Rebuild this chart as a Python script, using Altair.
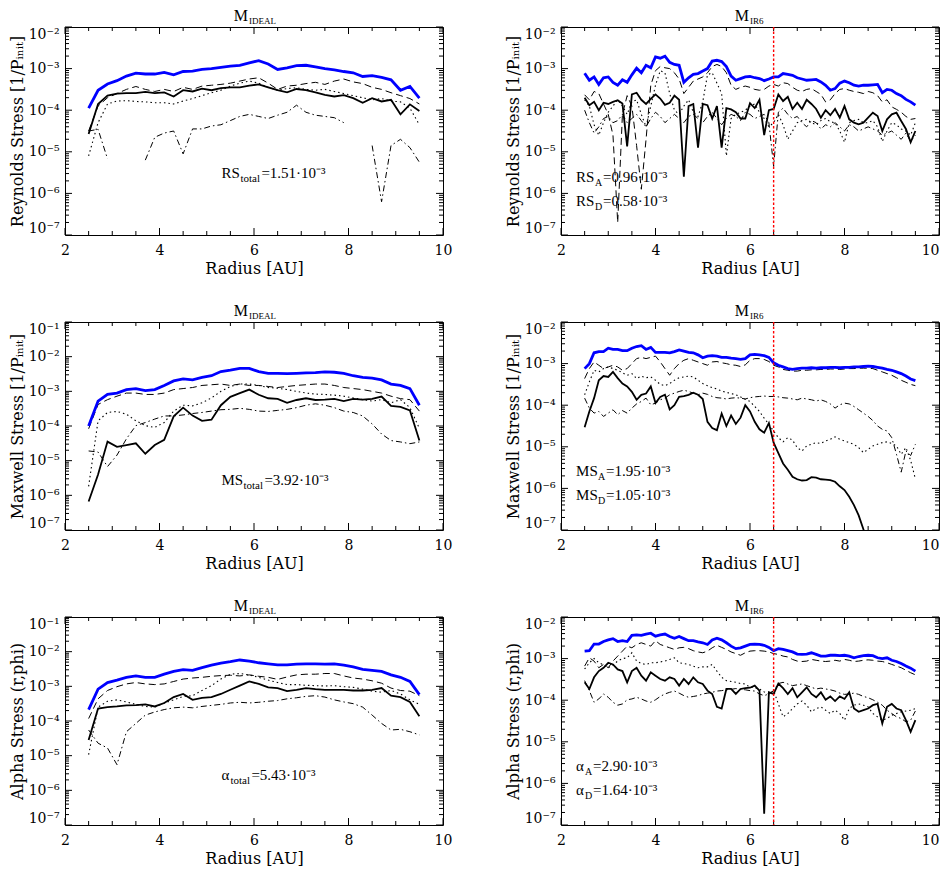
import pandas as pd
import altair as alt

# radius grids [AU]
R_IDEAL = [2.5, 2.7, 2.9, 3.1, 3.3, 3.5, 3.7, 3.9, 4.1, 4.3, 4.5, 4.7, 4.9, 5.1, 5.3, 5.5, 5.7, 5.9,
           6.1, 6.3, 6.5, 6.7, 6.9, 7.1, 7.3, 7.5, 7.7, 7.9, 8.1, 8.3, 8.5, 8.7, 8.9, 9.1, 9.3, 9.5]
R_IR6 = [round(2.5 + 0.1 * i, 1) for i in range(71)]

# all stresses below are log10 values (None = gap in the curve)
rs_ideal_total = [-3.95, -3.52, -3.37, -3.29, -3.18, -3.11, -3.13, -3.13, -3.09, -3.15, -3.07, -3.06, -3.02, -3.00, -2.97, -2.94, -2.92, -2.86,
                  -2.81, -2.89, -3.02, -2.98, -2.93, -2.92, -2.96, -3.00, -3.03, -3.07, -3.10, -3.19, -3.17, -3.21, -3.27, -3.52, -3.43, -3.71]
rs_ideal_solid = [-4.57, -3.85, -3.65, -3.60, -3.59, -3.59, -3.56, -3.59, -3.57, -3.67, -3.52, -3.55, -3.48, -3.52, -3.47, -3.45, -3.45, -3.41,
                  -3.38, -3.45, -3.52, -3.57, -3.49, -3.52, -3.57, -3.63, -3.67, -3.64, -3.71, -3.82, -3.71, -3.79, -3.75, -4.10, -3.86, -4.02]
rs_ideal_dash = [-4.50, -3.90, -3.70, -3.60, -3.50, -3.43, -3.50, -3.55, -3.50, -3.55, -3.45, -3.50, -3.42, -3.40, -3.38, -3.35, -3.30, -3.25,
                 -3.22, -3.35, -3.50, -3.42, -3.40, -3.36, -3.33, -3.38, -3.30, -3.25, -3.32, -3.36, -3.45, -3.50, -3.58, -3.65, -3.72, -3.85]
rs_ideal_dot = [-5.10, -4.30, -3.85, -3.78, -3.77, -3.79, -3.80, -3.82, -3.82, -3.85, -3.78, -3.72, -3.65, -3.58, -3.52, -3.42, -3.35, -3.30,
                -3.35, -3.45, -3.52, -3.48, -3.46, -3.50, -3.52, -3.50, -3.55, -3.60, -3.65, -3.70, -3.75, -3.72, -3.78, -3.80, -3.95, -4.35]
rs_ideal_dashdot = [-4.50, -4.46, -5.17, None, None, None, -5.20, -4.65, -4.55, -4.50, -5.05, -4.45, -4.45, -4.38, -4.35, -4.25, -4.15, -4.10,
                    -4.15, -4.20, -4.12, -4.05, -3.88, -4.05, -4.12, -4.15, -4.18, -4.30, None, None, -4.85, -6.20, -4.85, -4.70, -4.90, -5.25]

ms_ideal_total = [-4.00, -3.28, -3.09, -3.05, -2.95, -2.92, -2.98, -2.95, -2.83, -2.70, -2.64, -2.67, -2.60, -2.55, -2.43, -2.39, -2.34, -2.34,
                  -2.43, -2.48, -2.48, -2.49, -2.48, -2.47, -2.46, -2.44, -2.45, -2.48, -2.55, -2.60, -2.62, -2.67, -2.79, -2.83, -2.92, -3.40]
ms_ideal_solid = [-6.18, -5.40, -4.45, -4.60, -4.55, -4.50, -4.80, -4.55, -4.40, -3.72, -3.47, -3.70, -3.85, -3.82, -3.40, -3.16, -3.05, -2.95,
                  -3.10, -3.20, -3.22, -3.33, -3.25, -3.20, -3.25, -3.24, -3.22, -3.28, -3.22, -3.24, -3.22, -3.15, -3.42, -3.45, -3.55, -4.42]
ms_ideal_dash = [-4.08, -3.38, -3.24, -3.14, -3.05, -3.05, -3.09, -3.09, -3.05, -2.95, -2.92, -2.89, -2.83, -2.81, -2.79, -2.83, -2.79, -2.83,
                 -2.83, -2.86, -2.89, -2.86, -2.83, -2.81, -2.79, -2.79, -2.83, -2.89, -2.92, -2.95, -3.00, -3.05, -3.14, -3.21, -3.24, -3.57]
ms_ideal_dot = [-5.74, -3.85, -3.61, -3.58, -3.66, -3.85, -3.99, -4.04, -3.90, -3.57, -3.40, -3.42, -3.33, -3.19, -3.00, -2.86, -2.79, -2.79,
                -2.83, -2.89, -2.91, -2.95, -3.00, -3.05, -3.08, -3.09, -3.11, -3.14, -3.19, -3.24, -3.28, -3.24, -3.33, -3.24, -3.47, -4.07]
ms_ideal_dashdot = [-4.72, -4.75, -5.17, -4.84, -4.37, -3.99, -3.90, -3.80, -3.71, -3.71, -3.68, -3.64, -3.61, -3.57, -3.53, -3.52, -3.49, -3.52,
                    -3.57, -3.58, -3.55, -3.52, -3.47, -3.40, -3.36, -3.40, -3.47, -3.57, -3.61, -3.71, -3.94, -4.23, -4.42, -4.46, -4.51, -4.46]

as_ideal_total = [-3.67, -3.08, -2.89, -2.82, -2.74, -2.70, -2.74, -2.74, -2.65, -2.57, -2.52, -2.54, -2.46, -2.39, -2.33, -2.29, -2.24, -2.27,
                  -2.32, -2.35, -2.38, -2.38, -2.36, -2.35, -2.35, -2.36, -2.35, -2.39, -2.44, -2.51, -2.54, -2.57, -2.67, -2.74, -2.86, -3.24]
as_ideal_solid = [-4.55, -3.64, -3.60, -3.58, -3.55, -3.54, -3.52, -3.58, -3.48, -3.31, -3.22, -3.39, -3.33, -3.31, -3.22, -3.10, -2.98, -2.86,
                  -2.93, -3.03, -3.05, -3.14, -3.10, -3.05, -3.08, -3.10, -3.10, -3.10, -3.12, -3.12, -3.10, -3.05, -3.27, -3.31, -3.45, -3.86]
as_ideal_dash = [-3.93, -3.36, -3.12, -3.01, -2.93, -2.89, -2.93, -2.95, -2.93, -2.86, -2.79, -2.76, -2.74, -2.71, -2.69, -2.68, -2.70, -2.67,
                 -2.71, -2.74, -2.80, -2.73, -2.67, -2.65, -2.65, -2.63, -2.63, -2.70, -2.76, -2.79, -2.84, -2.91, -3.05, -3.12, -3.14, -3.27]
as_ideal_dot = [-4.97, -3.60, -3.43, -3.39, -3.45, -3.52, -3.58, -3.60, -3.48, -3.39, -3.29, -3.27, -3.12, -2.98, -2.79, -2.65, -2.63, -2.67,
                -2.74, -2.82, -2.89, -2.95, -2.95, -2.97, -2.98, -2.99, -2.98, -3.01, -3.03, -3.08, -3.14, -3.17, -3.12, -3.22, -3.39, -3.52]
as_ideal_dashdot = [-4.26, -4.64, -4.78, -5.26, -4.31, -4.07, -3.83, -3.74, -3.67, -3.62, -3.60, -3.62, -3.58, -3.55, -3.52, -3.48, -3.46, -3.48,
                    -3.46, -3.43, -3.41, -3.36, -3.33, -3.29, -3.27, -3.31, -3.39, -3.45, -3.50, -3.60, -3.83, -4.07, -4.26, -4.24, -4.31, -4.40]

rs_ir6_total = [-3.11, -3.28, -3.20, -3.38, -3.22, -3.20, -3.33, -3.40, -3.27, -3.33,
                -3.15, -2.99, -3.10, -2.92, -2.98, -2.72, -2.75, -2.70, -2.85, -2.90,
                -2.92, -3.33, -3.22, -3.14, -3.12, -3.06, -3.00, -2.82, -2.80, -2.83,
                -2.95, -3.18, -3.28, -3.24, -3.20, -3.19, -3.22, -3.24, -3.29, -3.25,
                -3.20, -3.20, -3.12, -3.14, -3.16, -3.22, -3.25, -3.28, -3.27, -3.26,
                -3.32, -3.40, -3.52, -3.48, -3.35, -3.30, -3.34, -3.40, -3.42, -3.40,
                -3.40, -3.39, -3.38, -3.58, -3.50, -3.52, -3.60, -3.65, -3.74, -3.80, -3.88]
rs_ir6_solid = [-3.70, -3.88, -3.80, -4.00, -3.82, -3.85, -3.80, -3.76, -3.84, -4.87,
                -3.62, -3.58, -3.75, -3.85, -3.73, -3.62, -3.72, -3.87, -3.82, -3.65,
                -3.75, -5.60, -3.90, -3.85, -4.90, -3.85, -3.88, -4.20, -3.90, -4.90,
                -3.95, -3.98, -4.05, -4.20, -4.20, -3.83, -3.95, -3.75, -4.60, -4.00,
                -3.97, -3.62, -3.78, -3.68, -3.97, -3.82, -3.97, -3.75, -3.85, -3.97,
                -4.18, -4.00, -4.12, -3.97, -4.18, -3.90, -4.22, -4.30, -4.34, -4.30,
                -4.18, -4.06, -4.14, -4.50, -4.22, -4.10, -4.06, -4.26, -4.45, -4.77, -4.50]
rs_ir6_dash = [-3.63, -3.75, -3.55, -3.60, -3.85, -4.10, -4.60, -6.70, -4.10, -3.65,
               -3.90, -4.85, -5.90, -4.70, -3.40, -3.05, -2.95, -2.98, -3.00, -3.10,
               -3.25, -3.60, -3.45, -3.30, -3.25, -3.20, -3.10, -2.95, -2.90, -2.95,
               -3.10, -3.40, -3.50, -3.45, -3.42, -3.45, -3.50, -3.52, -3.50, -3.42,
               -3.38, -3.42, -3.34, -3.36, -3.45, -3.52, -3.55, -3.50, -3.48, -3.55,
               -3.62, -3.80, -3.75, -3.60, -3.50, -3.48, -3.52, -3.55, -3.57, -3.60,
               -3.55, -3.58, -3.65, -3.80, -3.75, -3.92, -3.98, -4.05, -4.15, -4.22, -4.20]
rs_ir6_dot = [-3.75, -3.90, -4.35, -4.60, -4.30, -4.05, -3.90, -3.75, -3.90, -4.10,
              -3.80, -3.75, -4.10, -4.40, -3.90, -3.40, -3.05, -3.10, -3.60, -4.00,
              -4.10, -3.90, -3.75, -4.05, -4.15, -3.80, -3.15, -3.10, -3.35, -3.60,
              -5.10, -4.20, -4.10, -4.05, -4.00, -3.90, -3.85, -4.05, -4.20, -4.40,
              -4.30, -4.10, -4.35, -4.70, -4.50, -4.30, -4.25, -4.22, -4.30, -4.35,
              -4.25, -4.20, -4.28, -4.30, -4.50, -4.77, -4.30, -4.25, -4.22, -4.30,
              -4.30, -4.25, -4.40, -4.75, -4.50, -4.30, -4.35, -4.45, -4.50, -4.60, -4.30]
rs_ir6_dashdot = [-4.00, -4.30, -4.55, -4.40, -4.20, -4.15, -4.30, -4.25, -4.10, -4.30,
                  -4.20, -4.10, -4.25, -4.40, -4.20, -4.05, -4.15, -4.30, -4.20, -4.10,
                  -4.20, -4.30, -4.15, -4.10, -4.20, -4.30, -4.15, -4.05, -4.20, -4.35,
                  -4.20, -4.10, -4.15, -4.25, -4.05, -4.10, -4.20, -4.15, -4.10, -4.30,
                  -5.35, -4.05, -3.95, -4.10, -4.20, -4.15, -4.30, -4.40, -4.25, -4.30,
                  -4.45, -4.35, -4.40, -4.30, -4.40, -4.50, -4.35, -4.40, -4.50, -4.45,
                  -4.40, -4.45, -4.50, -4.60, -4.55, -4.50, -4.60, -4.70, -4.55, -4.75, -4.60]

ms_ir6_total = [-3.12, -3.00, -2.74, -2.71, -2.71, -2.63, -2.66, -2.66, -2.69, -2.69,
                -2.63, -2.59, -2.57, -2.66, -2.61, -2.73, -2.73, -2.73, -2.74, -2.71,
                -2.67, -2.70, -2.73, -2.74, -2.79, -2.86, -2.82, -2.81, -2.82, -2.85,
                -2.85, -2.87, -2.88, -2.90, -2.88, -2.79, -2.78, -2.79, -2.81, -2.85,
                -2.98, -3.04, -3.08, -3.12, -3.14, -3.12, -3.11, -3.11, -3.10, -3.11,
                -3.10, -3.10, -3.09, -3.09, -3.10, -3.09, -3.09, -3.08, -3.08, -3.07,
                -3.06, -3.07, -3.09, -3.11, -3.14, -3.16, -3.20, -3.24, -3.30, -3.37, -3.41]
ms_ir6_solid = [-4.53, -4.15, -3.83, -3.40, -3.30, -3.32, -3.20, -3.35, -3.48, -3.55,
                -3.68, -3.87, -3.75, -3.72, -3.55, -3.95, -3.80, -3.75, -4.10, -4.00,
                -3.80, -3.78, -3.75, -3.70, -3.75, -3.85, -4.40, -4.55, -4.60, -4.20,
                -4.50, -4.25, -4.45, -4.30, -4.00, -4.15, -4.40, -4.58, -4.66, -4.43,
                -4.90, -5.15, -5.40, -5.55, -5.72, -5.78, -5.81, -5.80, -5.73, -5.74,
                -5.78, -5.79, -5.80, -5.84, -5.95, -6.04, -6.20, -6.40, -6.65, -6.98,
                -7.40, None, None, None, None, None, None, None, None, None, None]
ms_ir6_dash = [-3.36, -3.12, -2.96, -3.04, -3.12, -3.08, -3.04, -3.08, -3.16, -3.12,
               -3.00, -2.88, -2.85, -2.88, -2.85, -2.82, -2.96, -3.12, -3.28, -3.12,
               -3.00, -2.92, -2.88, -2.92, -2.96, -3.00, -3.04, -2.96, -2.95, -2.98,
               -3.00, -3.03, -3.04, -3.07, -3.03, -2.92, -2.88, -2.88, -2.90, -2.95,
               -3.04, -3.08, -3.14, -3.16, -3.18, -3.18, -3.16, -3.16, -3.15, -3.15,
               -3.14, -3.14, -3.13, -3.13, -3.14, -3.13, -3.12, -3.12, -3.11, -3.11,
               -3.11, -3.12, -3.16, -3.20, -3.24, -3.28, -3.34, -3.40, -3.45, -3.50, -3.53]
ms_ir6_dot = [-3.75, -3.44, -3.16, -3.20, -3.12, -3.08, -3.12, -3.16, -3.22, -3.28,
              -3.24, -3.36, -3.30, -3.34, -3.32, -3.40, -3.50, -3.53, -3.48, -3.40,
              -3.34, -3.32, -3.30, -3.32, -3.40, -3.48, -3.53, -3.58, -3.61, -3.66,
              -3.69, -3.72, -3.75, -3.80, -3.86, -3.91, -4.03, -4.15, -4.31, -4.46,
              -4.62, -4.78, -4.88, -4.78, -4.84, -5.02, -5.10, -4.98, -4.94, -4.90,
              -4.92, -4.86, -4.82, -4.76, -4.82, -4.86, -4.90, -4.94, -5.02, -5.14,
              -5.06, -4.98, -4.94, -4.90, -4.88, -4.92, -4.98, -5.18, -5.02, -5.33, -5.77]
ms_ir6_dashdot = [-3.83, -4.07, -4.19, -4.15, -4.27, -4.19, -4.11, -4.23, -4.13, -4.19,
                  -4.07, -3.97, -3.91, -3.83, -3.99, -3.95, -3.87, -3.83, -3.75, -3.71,
                  -3.67, -3.64, -3.67, -3.71, -3.75, -3.71, -3.74, -3.79, -3.82, -3.83,
                  -3.85, -3.83, -3.82, -3.83, -3.85, -3.82, -3.80, -3.79, -3.78, -3.79,
                  -3.79, -3.80, -3.82, -3.83, -3.85, -3.87, -3.83, -3.85, -3.87, -3.90,
                  -3.87, -3.91, -3.97, -4.07, -3.99, -3.95, -3.97, -4.03, -4.11, -4.19,
                  -4.27, -4.37, -4.50, -4.58, -4.62, -4.78, -5.18, -5.61, -5.10, -5.21, -4.94]

as_ir6_total = [-2.82, -2.81, -2.65, -2.65, -2.59, -2.55, -2.52, -2.59, -2.57, -2.59,
                -2.44, -2.43, -2.44, -2.41, -2.39, -2.46, -2.43, -2.41, -2.47, -2.51,
                -2.47, -2.52, -2.57, -2.57, -2.60, -2.62, -2.66, -2.55, -2.51, -2.55,
                -2.62, -2.70, -2.76, -2.74, -2.70, -2.66, -2.65, -2.66, -2.68, -2.73,
                -2.81, -2.76, -2.78, -2.81, -2.84, -2.89, -2.90, -2.89, -2.86, -2.90,
                -2.94, -2.94, -2.92, -2.92, -2.93, -2.92, -2.94, -2.98, -2.95, -2.93,
                -2.92, -2.93, -2.98, -3.00, -2.98, -3.04, -3.07, -3.12, -3.18, -3.23, -3.30]
as_ir6_solid = [-3.57, -3.73, -3.45, -3.30, -3.22, -3.10, -3.14, -3.26, -3.30, -3.57,
                -3.30, -3.22, -3.41, -3.53, -3.33, -3.41, -3.49, -3.53, -3.45, -3.49,
                -3.65, -3.49, -3.61, -3.45, -3.57, -3.61, -3.77, -3.85, -4.16, -4.20,
                -3.73, -3.73, -3.85, -3.73, -3.71, -3.70, -3.65, -3.77, -6.73, -3.81,
                -3.85, -3.60, -3.71, -3.85, -3.71, -3.93, -3.81, -3.69, -3.85, -3.93,
                -3.81, -3.99, -3.91, -4.02, -3.91, -3.97, -3.81, -4.20, -4.28, -4.24,
                -4.20, -4.12, -4.09, -4.56, -4.16, -4.09, -4.20, -4.24, -4.48, -4.76, -4.48]
as_ir6_dash = [-3.18, -2.98, -3.06, -3.22, -3.14, -3.22, -3.06, -2.94, -2.82, -2.70,
               -2.74, -2.66, -2.62, -2.66, -2.70, -2.57, -2.66, -2.70, -2.74, -2.78,
               -2.74, -2.73, -2.76, -2.81, -2.84, -2.86, -2.82, -2.74, -2.68, -2.73,
               -2.78, -2.84, -2.88, -2.92, -2.86, -2.82, -2.81, -2.81, -2.82, -2.84,
               -2.88, -2.90, -2.94, -2.96, -3.02, -3.06, -3.07, -3.06, -3.02, -3.04,
               -3.06, -3.07, -3.06, -3.04, -3.06, -3.02, -3.04, -3.07, -3.06, -3.04,
               -3.03, -3.04, -3.06, -3.07, -3.10, -3.14, -3.18, -3.22, -3.28, -3.34, -3.39]
as_ir6_dot = [-3.25, -3.10, -3.00, -3.10, -3.15, -3.22, -3.15, -3.06, -3.00, -2.98,
              -2.86, -3.06, -3.12, -3.14, -3.10, -3.10, -3.08, -3.06, -3.02, -2.98,
              -3.10, -3.12, -3.14, -3.18, -3.22, -3.20, -3.20, -3.14, -3.30, -3.45,
              -3.53, -3.55, -3.57, -3.60, -3.61, -3.69, -3.70, -3.73, -3.80, -3.85,
              -3.77, -4.09, -4.40, -4.32, -4.20, -4.09, -4.02, -4.12, -4.28, -4.20,
              -4.16, -4.24, -4.32, -4.24, -4.32, -4.48, -4.20, -4.12, -4.09, -4.12,
              -4.16, -4.32, -4.40, -4.48, -4.44, -4.36, -4.32, -4.28, -4.26, -4.24, -4.20]
as_ir6_dashdot = [-3.53, -3.77, -4.05, -3.97, -3.85, -3.93, -4.05, -4.12, -4.09, -3.99,
                  -3.97, -3.93, -3.97, -4.02, -4.05, -3.99, -3.91, -3.85, -3.81, -3.78,
                  -3.83, -3.89, -3.93, -3.91, -3.89, -3.85, -3.83, -3.81, -3.78, -3.77,
                  -3.75, -3.74, -3.72, -3.74, -3.75, -3.77, -3.78, -3.85, -3.89, -3.85,
                  -3.77, -3.60, -3.57, -3.61, -3.65, -3.63, -3.61, -3.65, -3.69, -3.73,
                  -3.71, -3.73, -3.75, -3.78, -3.83, -3.86, -3.85, -3.83, -3.86, -3.91,
                  -3.94, -3.99, -4.05, -4.12, -4.24, -4.32, -4.40, -4.44, -4.52, -4.48, -4.26]

# axis ticks
X_LABELS = [2, 4, 6, 8, 10]
X_MINOR = [2.5, 3, 3.5, 4.5, 5, 5.5, 6.5, 7, 7.5, 8.5, 9, 9.5]
Y_MINOR_MULT = [2, 3, 4, 5, 6, 7, 8, 9]
DEAD_ZONE_EDGE = 6.5

W, H = 378, 208
SERIF = "DejaVu Serif"
TIMES = "Liberation Serif"
SUP = str.maketrans("-0123456789", "⁻⁰¹²³⁴⁵⁶⁷⁸⁹")

STYLES = {
    "dashdot": dict(color="black", strokeWidth=1, strokeDash=[6, 3, 1.5, 3]),
    "dot": dict(color="black", strokeWidth=1.1, strokeDash=[1.5, 3]),
    "dash": dict(color="black", strokeWidth=1, strokeDash=[7, 4]),
    "solid": dict(color="black", strokeWidth=1.8),
    "total": dict(color="#0000ff", strokeWidth=2.8),
}

# notes: (r, log10 value, [(text, dx, dy, size), ...])
PANELS = [
    dict(key="rs_ideal", model="IDEAL", grid=R_IDEAL, top=-2, ytitle="Reynolds Stress [1/Pᵢₙᵢₜ]",
         series=dict(dashdot=rs_ideal_dashdot, dot=rs_ideal_dot, dash=rs_ideal_dash, solid=rs_ideal_solid, total=rs_ideal_total),
         notes=[(5.31, -5.63, [("RS", 0, 0, 15), ("total", 19, 4, 11), ("=1.51·10⁻³", 40, 0, 15)])]),
    dict(key="rs_ir6", model="IR6", grid=R_IR6, top=-2, ytitle="Reynolds Stress [1/Pᵢₙᵢₜ]",
         series=dict(dashdot=rs_ir6_dashdot, dot=rs_ir6_dot, dash=rs_ir6_dash, solid=rs_ir6_solid, total=rs_ir6_total),
         notes=[(2.32, -5.72, [("RS", 0, 0, 15), ("A", 19, 4, 10), ("=0.96·10⁻³", 27, 0, 15)]),
                (2.32, -6.31, [("RS", 0, 0, 15), ("D", 19, 4, 10), ("=0.58·10⁻³", 27, 0, 15)])]),
    dict(key="ms_ideal", model="IDEAL", grid=R_IDEAL, top=-1, ytitle="Maxwell Stress [1/Pᵢₙᵢₜ]",
         series=dict(dashdot=ms_ideal_dashdot, dot=ms_ideal_dot, dash=ms_ideal_dash, solid=ms_ideal_solid, total=ms_ideal_total),
         notes=[(5.31, -5.69, [("MS", 0, 0, 15), ("total", 22, 4, 11), ("=3.92·10⁻³", 43, 0, 15)])]),
    dict(key="ms_ir6", model="IR6", grid=R_IR6, top=-2, ytitle="Maxwell Stress [1/Pᵢₙᵢₜ]",
         series=dict(dashdot=ms_ir6_dashdot, dot=ms_ir6_dot, dash=ms_ir6_dash, solid=ms_ir6_solid, total=ms_ir6_total),
         notes=[(2.32, -5.70, [("MS", 0, 0, 15), ("A", 22, 4, 10), ("=1.95·10⁻³", 30, 0, 15)]),
                (2.32, -6.27, [("MS", 0, 0, 15), ("D", 22, 4, 10), ("=1.05·10⁻³", 30, 0, 15)])]),
    dict(key="as_ideal", model="IDEAL", grid=R_IDEAL, top=-1, ytitle="Alpha Stress (r,phi)",
         series=dict(dashdot=as_ideal_dashdot, dot=as_ideal_dot, dash=as_ideal_dash, solid=as_ideal_solid, total=as_ideal_total),
         notes=[(5.31, -5.69, [("α", 0, 0, 15), ("total", 9, 4, 11), ("=5.43·10⁻³", 30, 0, 15)])]),
    dict(key="as_ir6", model="IR6", grid=R_IR6, top=-2, ytitle="Alpha Stress (r,phi)",
         series=dict(dashdot=as_ir6_dashdot, dot=as_ir6_dot, dash=as_ir6_dash, solid=as_ir6_solid, total=as_ir6_total),
         notes=[(2.32, -5.70, [("α", 0, 0, 15), ("A", 9, 4, 10), ("=2.90·10⁻³", 17, 0, 15)]),
                (2.32, -6.27, [("α", 0, 0, 15), ("D", 9, 4, 10), ("=1.64·10⁻³", 17, 0, 15)])]),
]
TITLE_SHIFT = {"IDEAL": -6, "IR6": -1}


def label_expr(exps):
    expr = "''"
    for e in reversed(exps):
        expr = f"datum.value < {10.0 ** e * 3.16:g} ? '10{str(e).translate(SUP)}' : " + expr
    return expr


def make_panel(p, right_col):
    exps = list(range(-7, p["top"] + 1))
    x_align = {"condition": {"test": "datum.value >= 10", "value": "right"}, "value": "center"} if right_col else "center"
    x_enc = alt.X("r:Q", scale=alt.Scale(domain=[2, 10], nice=False, zero=False),
                  axis=alt.Axis(values=X_LABELS, format="d", title="Radius [AU]", ticks=False, tickSize=0,
                                domain=False, grid=False, labelPadding=8, titlePadding=3, labelFlush=False,
                                labelAlign=x_align))
    y_enc = alt.Y("v:Q", scale=alt.Scale(type="log", domain=[10.0 ** -7, 10.0 ** p["top"]], nice=False),
                  axis=alt.Axis(values=[10.0 ** e for e in exps], labelExpr=label_expr(exps), title=p["ytitle"],
                                ticks=False, tickSize=0, domain=False, grid=False, labelPadding=6,
                                titlePadding=3, labelFlush=True))

    rows = []
    for style, vals in p["series"].items():
        seg = 0
        for r, v in zip(p["grid"], vals):
            if v is None:
                seg += 1
                continue
            rows.append(dict(style=style, seg=seg, r=r, v=10.0 ** v))
    df = pd.DataFrame(rows)

    layers = []
    # inward ticks on all four sides of the frame
    ymaj = pd.DataFrame({"v": [10.0 ** e for e in exps]})
    ymin = pd.DataFrame({"v": [m * 10.0 ** e for e in exps[:-1] for m in Y_MINOR_MULT]})
    xmaj = pd.DataFrame({"r": X_LABELS})
    xmin = pd.DataFrame({"r": X_MINOR})
    for d, n in [(ymaj, 7), (ymin, 4)]:
        layers.append(alt.Chart(d).mark_rule(color="black", strokeWidth=1).encode(y=y_enc, x=alt.value(0), x2=alt.value(n)))
        layers.append(alt.Chart(d).mark_rule(color="black", strokeWidth=1).encode(y=y_enc, x=alt.value(W), x2=alt.value(W - n)))
    for d, n in [(xmaj, 7), (xmin, 4)]:
        layers.append(alt.Chart(d).mark_rule(color="black", strokeWidth=1).encode(x=x_enc, y=alt.value(H), y2=alt.value(H - n)))
        layers.append(alt.Chart(d).mark_rule(color="black", strokeWidth=1).encode(x=x_enc, y=alt.value(0), y2=alt.value(n)))

    for style in ["dashdot", "dot", "dash", "solid", "total"]:
        layers.append(alt.Chart(df[df["style"] == style]).mark_line(clip=True, **STYLES[style]).encode(
            x=x_enc, y=y_enc, detail="seg:N", order="r:Q"))

    if p["model"] == "IR6":
        layers.append(alt.Chart(pd.DataFrame({"r": [DEAD_ZONE_EDGE]})).mark_rule(
            color="#ff0000", strokeWidth=1.4, strokeDash=[2.5, 2]).encode(x=x_enc))

    for r0, v0, parts in p["notes"]:
        for text, dx, dy, size in parts:
            layers.append(alt.Chart(pd.DataFrame({"r": [r0], "v": [10.0 ** v0], "t": [text]})).mark_text(
                align="left", baseline="alphabetic", dx=dx, dy=dy, font=TIMES, fontSize=size, color="black").encode(
                x=x_enc, y=y_enc, text="t:N"))

    xm = W / 2 + TITLE_SHIFT[p["model"]]
    layers.append(alt.Chart(pd.DataFrame({"t": ["M"]})).mark_text(
        align="right", baseline="alphabetic", font=TIMES, fontSize=16, color="black").encode(
        x=alt.value(xm), y=alt.value(-6), text="t:N"))
    layers.append(alt.Chart(pd.DataFrame({"t": [p["model"]]})).mark_text(
        align="left", baseline="alphabetic", font=TIMES, fontSize=9, color="black").encode(
        x=alt.value(xm + 1), y=alt.value(-3), text="t:N"))

    return alt.layer(*layers).properties(width=W, height=H)


chart = alt.concat(*[make_panel(p, i % 2 == 1) for i, p in enumerate(PANELS)], columns=2,
                   spacing={"row": 87, "column": 118}, bounds="flush").properties(
    padding={"left": 0, "top": -1, "right": 0, "bottom": 0}
).configure_view(stroke="black", strokeWidth=1).configure_axis(
    labelFont=SERIF, labelFontSize=14, titleFont=SERIF, titleFontSize=16, titleFontWeight="normal",
    labelColor="black", titleColor="black")

chart.save("out.html", embed_options={"renderer": "svg", "actions": False})
